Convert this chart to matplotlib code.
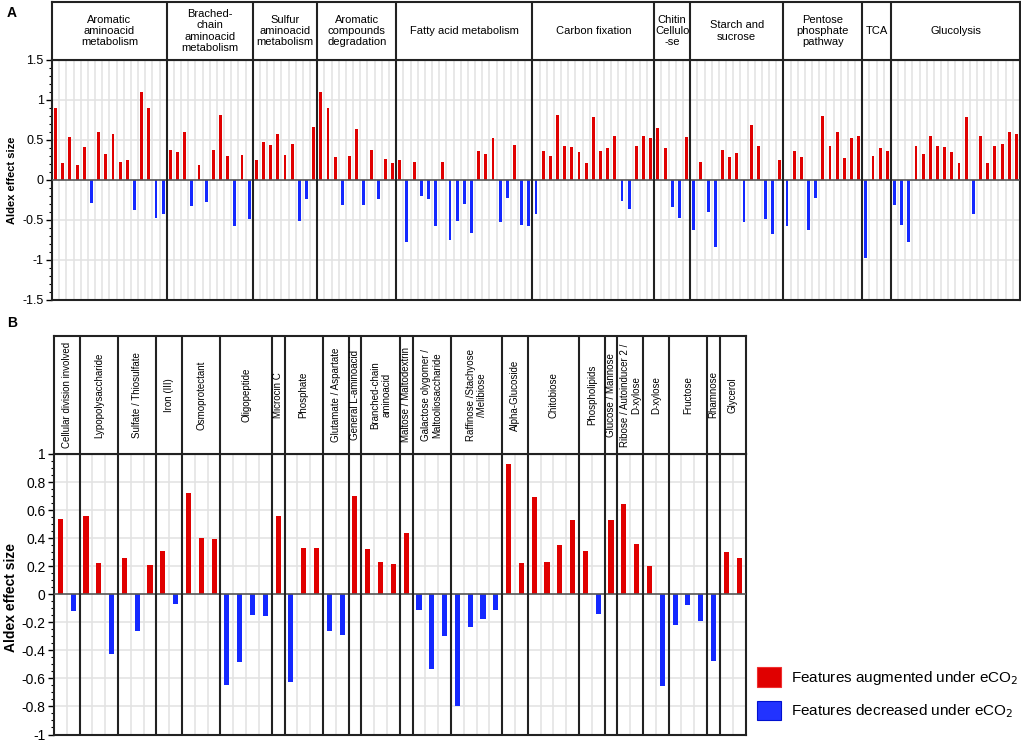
import numpy as np
import matplotlib
matplotlib.use("Agg")
import matplotlib.pyplot as plt
from matplotlib.patches import Patch
from matplotlib.ticker import MultipleLocator, FuncFormatter

plt.rcParams['font.family'] = ['Liberation Sans', 'DejaVu Sans']
plt.rcParams['axes.unicode_minus'] = False

RED = '#e00000'
BLUE = '#1428ff'

# Panel A: KEGG pathway groups
a_groups = ["Aromatic\naminoacid\nmetabolism", "Brached-\nchain\naminoacid\nmetabolism",
            "Sulfur\naminoacid\nmetabolism", "Aromatic\ncompounds\ndegradation",
            "Fatty acid metabolism", "Carbon fixation", "Chitin\nCellulo\n-se",
            "Starch and\nsucrose", "Pentose\nphosphate\npathway", "TCA", "Glucolysis"]
a_counts = [16, 12, 9, 11, 19, 17, 5, 13, 11, 4, 18]
a_values = [
    0.90, 0.21, 0.54, 0.19, 0.41, -0.29, 0.60, 0.33, 0.58, 0.23, 0.25, -0.375, 1.10, 0.90, -0.48, -0.42,
    0.38, 0.35, 0.60, -0.325, 0.19, -0.27, 0.375, 0.81, 0.30, -0.57, 0.31, -0.49,
    0.25, 0.475, 0.44, 0.58, 0.31, 0.45, -0.51, -0.24, 0.66,
    1.10, 0.90, 0.29, -0.31, 0.30, 0.64, -0.31, 0.37, -0.24, 0.26, 0.21,
    0.25, -0.77, 0.225, -0.20, -0.24, -0.57, 0.22, -0.75, -0.51, -0.30, -0.66, 0.36, 0.33, 0.52, -0.525, -0.23, 0.44, -0.56, -0.575,
    -0.42, 0.36, 0.30, 0.81, 0.425, 0.41, 0.35, 0.21, 0.79, 0.36, 0.40, 0.55, -0.26, -0.36, 0.42, 0.55, 0.525,
    0.645, 0.40, -0.34, -0.47, 0.54,
    -0.625, 0.23, -0.40, -0.84, 0.38, 0.29, 0.34, -0.525, 0.69, 0.42, -0.49, -0.67, 0.25,
    -0.58, 0.36, 0.29, -0.625, -0.22, 0.80, 0.42, 0.60, 0.28, 0.525, 0.545,
    -0.98, 0.30, 0.40, 0.36,
    -0.31, -0.56, -0.77, 0.42, 0.33, 0.55, 0.425, 0.41, 0.35, 0.21, 0.79, -0.42, 0.545, 0.21, 0.42, 0.45, 0.60, 0.58,
]

# Panel B: transporter groups
b_groups = ["Cellular division involved", "Lypopolysaccharide", "Sulfate / Thiosulfate", "Iron (III)",
            "Osmoprotectant", "Oligopeptide", "Microcin C", "Phosphate", "Glutamate / Aspartate",
            "General L-aminoacid", "Branched-chain\naminoacid", "Maltose / Maltodextrin",
            "Galactose olygomer /\nMaltooliosaccharide", "Raffinose /Stachyose\n/Melibiose",
            "Alpha-Glucoside", "Chitobiose", "Phospholipids", "Glucose / Mannose",
            "Ribose / Autoinducer 2 /\nD-xylose", "D-xylose", "Fructose", "Rhamnose", "Glycerol"]
b_counts = [2, 3, 3, 2, 3, 4, 1, 3, 2, 1, 3, 1, 3, 4, 2, 4, 2, 1, 2, 2, 3, 1, 2]
b_values = [
    0.54, -0.12,
    0.56, 0.225, -0.425,
    0.26, -0.26, 0.205,
    0.305, -0.07,
    0.72, 0.40, 0.395,
    -0.65, -0.485, -0.145, -0.155,
    0.56,
    -0.625, 0.33, 0.33,
    -0.265, -0.29,
    0.70,
    0.32, 0.23, 0.215,
    0.435,
    -0.115, -0.53, -0.30,
    -0.80, -0.23, -0.175, -0.115,
    0.93, 0.225,
    0.695, 0.23, 0.35, 0.53,
    0.305, -0.14,
    0.53,
    0.64, 0.355,
    0.20, -0.655,
    -0.22, -0.08, -0.19,
    -0.475,
    0.30, 0.255,
]

W, H = 1021, 742
fig = plt.figure(figsize=(W / 100, H / 100), dpi=100)


def box(x0, y0, x1, y1):
    # pixel box (top-left origin) -> figure fraction rect
    return [x0 / W, 1 - y1 / H, (x1 - x0) / W, (y1 - y0) / H]


def draw_panel(ax, hax, groups, counts, values, ylim, major, minor, grid_step,
               fs_head, fs_tick, rot):
    n = len(values)
    x = np.arange(n) + 0.5
    vals = np.array(values)
    colors = [RED if v > 0 else BLUE for v in vals]

    ax.set_xlim(0, n)
    ax.set_ylim(*ylim)
    # light grid
    for xv in range(1, n):
        ax.axvline(xv, color='#e2e2e2', lw=1.1, zorder=0)
    for yv in np.arange(ylim[0] + grid_step, ylim[1] - 1e-9, grid_step):
        if abs(yv) > 1e-9:
            ax.axhline(yv, color='#e2e2e2', lw=1.1, zorder=0)
    ax.bar(x, vals, width=0.4, color=colors, zorder=2)
    ax.axhline(0, color='#555555', lw=1.2, zorder=3)

    edges = np.cumsum(counts)[:-1]
    for e in edges:
        ax.axvline(e, color='#222222', lw=1.5, zorder=4)
        hax.axvline(e, color='#222222', lw=1.5)

    ax.yaxis.set_major_locator(MultipleLocator(major))
    ax.yaxis.set_minor_locator(MultipleLocator(minor))
    ax.yaxis.set_major_formatter(FuncFormatter(lambda v, p: f"{round(v, 2):g}"))
    ax.tick_params(axis='y', which='major', length=4, width=1, labelsize=fs_tick, pad=2)
    ax.tick_params(axis='y', which='minor', length=2, width=0.8)
    ax.set_xticks([])
    for s in ax.spines.values():
        s.set_color('#222222')
        s.set_linewidth(1.5)

    hax.set_xlim(0, n)
    hax.set_ylim(0, 1)
    hax.set_xticks([])
    hax.set_yticks([])
    for s in hax.spines.values():
        s.set_color('#222222')
        s.set_linewidth(1.5)
    starts = np.concatenate([[0], np.cumsum(counts)[:-1]])
    for name, st, c in zip(groups, starts, counts):
        hax.text(st + c / 2, 0.5, name, rotation=rot, ha='center', va='center',
                 multialignment='center', fontsize=fs_head, linespacing=1.15)


# Panel A
axA = fig.add_axes(box(52, 60, 1020, 300))
hA = fig.add_axes(box(52, 2, 1020, 60))
draw_panel(axA, hA, a_groups, a_counts, a_values, (-1.5, 1.5), 0.5, 0.1, 0.5, 8, 9, 0)

# Panel B
axB = fig.add_axes(box(54, 454, 745.5, 734.5))
hB = fig.add_axes(box(54, 336, 745.5, 454))
draw_panel(axB, hB, b_groups, b_counts, b_values, (-1, 1), 0.2, 0.05, 0.2, 7, 10, 90)

fig.text(12 / W, 1 - 180 / H, "Aldex effect size", rotation=90, ha='center', va='center',
         fontsize=8, fontweight='bold')
fig.text(11 / W, 1 - 597 / H, "Aldex effect size", rotation=90, ha='center', va='center',
         fontsize=10, fontweight='bold')
fig.text(7 / W, 1 - 13 / H, "A", ha='left', va='center', fontsize=10, fontweight='bold')
fig.text(7 / W, 1 - 323 / H, "B", ha='left', va='center', fontsize=10, fontweight='bold')

handles = [Patch(facecolor='#e00000', edgecolor='#f03030', lw=0.8),
           Patch(facecolor='#2233ff', edgecolor='#0010d0', lw=0.8)]
fig.legend(handles, ["Features augmented under eCO$_2$", "Features decreased under eCO$_2$"],
           loc='upper left', bbox_to_anchor=(757 / W, 1 - 667 / H), frameon=False,
           fontsize=11, handlelength=1.6, handleheight=1.6, handletextpad=0.6,
           labelspacing=0.9, borderpad=0, borderaxespad=0)

fig.savefig("out.png", dpi=100)
